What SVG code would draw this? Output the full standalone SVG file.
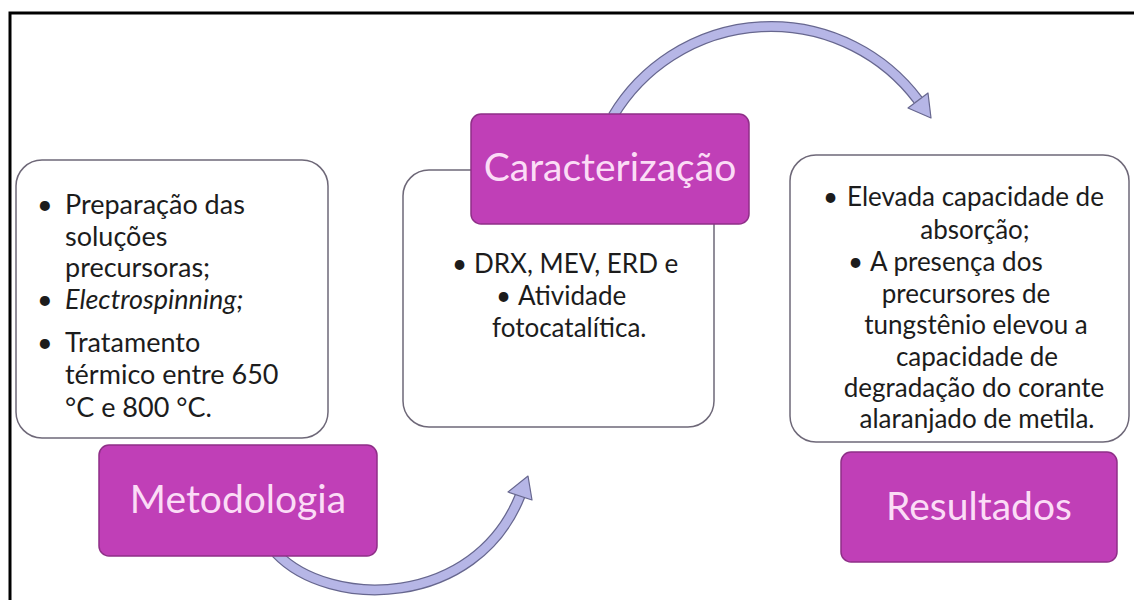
<svg xmlns="http://www.w3.org/2000/svg" width="1134" height="600" viewBox="0 0 1134 600">
<style>
.card{fill:#ffffff;stroke:#6e6878;stroke-width:1.5}
.tag{fill:#c03fb7;stroke:#8f2f88;stroke-width:1.5}
.tagtxt{font-family:Lato,"Open Sans",sans-serif;font-size:39px;fill:#fbdcf6;text-anchor:middle}
.body{font-family:Lato,"Open Sans",sans-serif;fill:#1c1c1c}
.l{font-size:27px}
.m{font-size:26px}
.c{text-anchor:middle}
.band-o{fill:none;stroke:#67678f;stroke-width:11}
.band-i{fill:none;stroke:#b6b6e6;stroke-width:8.5}
.head{fill:#b6b6e6;stroke:#67678f;stroke-width:1.2;stroke-linejoin:round}
</style>
<rect width="1134" height="600" fill="#ffffff"/>
<path d="M10 600 V13 H1134" fill="none" stroke="#000" stroke-width="3"/>

<g id="connectors">
<g id="arrow-top">
<path class="band-o" d="M613 116 A184 184 0 0 1 918 100"/>
<path class="band-i" d="M613 116 A184 184 0 0 1 918 100"/>
<polygon class="head" points="931,118 908,108 928,93"/>
</g>
<g id="arrow-bottom">
<path class="band-o" d="M276 553 C330 610 475 608 520 496"/>
<path class="band-i" d="M276 553 C330 610 475 608 520 496"/>
<polygon class="head" points="528,476 508,492 532,500"/>
</g>
</g>

<g id="metodologia-card">
<rect class="card" x="16" y="160" width="312" height="278" rx="26"/>
<text class="body l"><tspan x="37" y="214">•</tspan><tspan x="65" y="214">Preparação das</tspan></text>
<text class="body l" x="65" y="246">soluções</text>
<text class="body l" x="65" y="277">precursoras;</text>
<text class="body l"><tspan x="37" y="309">•</tspan><tspan x="65" y="309" font-style="italic">Electrospinning;</tspan></text>
<text class="body l"><tspan x="37" y="352">•</tspan><tspan x="65" y="352">Tratamento</tspan></text>
<text class="body l" x="65" y="384">térmico entre 650</text>
<text class="body l" x="65" y="417">°C e 800 °C.</text>
</g>

<g id="metodologia">
<rect class="tag" x="99" y="445" width="278" height="111" rx="10"/>
<text class="tagtxt" x="238" y="513">Metodologia</text>
</g>

<g id="caracterizacao-card">
<rect class="card" x="403" y="170" width="311" height="257" rx="26"/>
<text class="body m"><tspan x="452" y="273">•</tspan><tspan x="474" y="273">DRX, MEV, ERD e</tspan></text>
<text class="body m"><tspan x="496" y="305">•</tspan><tspan x="518" y="305">Atividade</tspan></text>
<text class="body m" x="492" y="337">fotocatalítica.</text>
</g>

<g id="caracterizacao">
<rect class="tag" x="471" y="114" width="278" height="110" rx="10"/>
<text class="tagtxt" x="610" y="181">Caracterização</text>
</g>

<g id="resultados-card">
<rect class="card" x="790" y="155" width="339" height="287" rx="26"/>
<text class="body m"><tspan x="823" y="206">•</tspan><tspan x="847" y="206">Elevada capacidade de</tspan></text>
<text class="body m c" x="975" y="239">absorção;</text>
<text class="body m"><tspan x="848" y="271">•</tspan><tspan x="870" y="271">A presença dos</tspan></text>
<text class="body m c" x="966" y="303">precursores de</text>
<text class="body m c" x="976" y="334">tungstênio elevou a</text>
<text class="body m c" x="977" y="366">capacidade de</text>
<text class="body m c" x="974" y="397">degradação do corante</text>
<text class="body m c" x="977" y="428">alaranjado de metila.</text>
</g>

<g id="resultados">
<rect class="tag" x="841" y="452" width="276" height="110" rx="10"/>
<text class="tagtxt" x="979" y="520">Resultados</text>
</g>
</svg>
